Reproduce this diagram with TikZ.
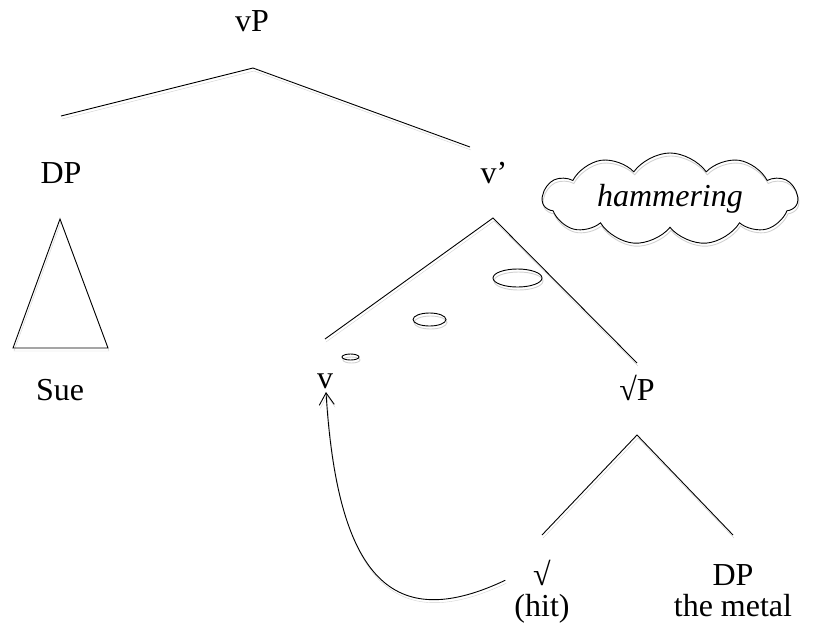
\documentclass[tikz,border=0pt]{standalone}
\usepackage{fontspec}
\setmainfont{Liberation Serif}
\usetikzlibrary{arrows.meta,shapes.geometric,shapes.symbols}

\tikzset{
  shadowed/.style={preaction={draw=black!18,transform canvas={shift={(1,3)}}}},
  branch/.style={draw,line width=0.9pt,shadowed},
}

\begin{document}
\begin{tikzpicture}[x=1pt,y=-1pt]
\useasboundingbox (0,0) rectangle (821,630);

\begin{scope}[every node/.style={font=\fontsize{32}{31}\selectfont,anchor=base,inner sep=0pt,align=center}]
    \node (vP) at (252,31) {vP};
    \node (dp1) at (61,183) {DP};
    \node (vbar) at (494,183) {v’};
    \node (sue) at (60,400) {Sue};
    \node (v) at (325,388) {v};
    \node (rootP) at (637,400) {√P};
    \node (root) at (542,616) {√\\(hit)};
    \node (dp2) at (733,616) {DP\\the metal};
\end{scope}

% branch ends
\coordinate (vP-top) at (253,68);
\coordinate (vP-l) at (61,116);
\coordinate (vP-r) at (470,147);
\coordinate (vbar-top) at (493,218);
\coordinate (vbar-l) at (325,339);
\coordinate (vbar-r) at (637,363);
\coordinate (rootP-top) at (637,435);
\coordinate (rootP-l) at (542,535);
\coordinate (rootP-r) at (733,535);
\coordinate (tri-top) at (60,219);
\coordinate (tri-l) at (13,348);
\coordinate (tri-r) at (108,348);
\coordinate (v-foot) at (326,392);

\path [branch] (vP-l) -- (vP-top) -- (vP-r);
\path [branch] (vbar-l) -- (vbar-top) -- (vbar-r);
\path [branch] (rootP-l) -- (rootP-top) -- (rootP-r);
\path [branch] (tri-top) -- (tri-l) -- (tri-r) -- cycle;
\path [branch,-{Straight Barb[length=12pt,width=15pt]}] ([shift={(-9,-11)}]root.west)
    .. controls (400,630) and (338,590) .. (v-foot);

\begin{scope}[every node/.style={draw,line width=0.9pt,shadowed,inner sep=0pt}]
    \node [ellipse,minimum width=17pt,minimum height=6pt] (b1) at (350.5,357) {};
    \node [ellipse,minimum width=33pt,minimum height=13pt] (b2) at (429.5,319.5) {};
    \node [ellipse,minimum width=49pt,minimum height=18pt] (b3) at (517.5,278) {};
    \node [cloud,cloud puffs=11,cloud puff arc=110,aspect=3.2,
           minimum width=255pt,minimum height=80pt,
           font=\fontsize{32}{31}\selectfont\itshape] (think) at (670,199) {hammering};
\end{scope}
\end{tikzpicture}
\end{document}
